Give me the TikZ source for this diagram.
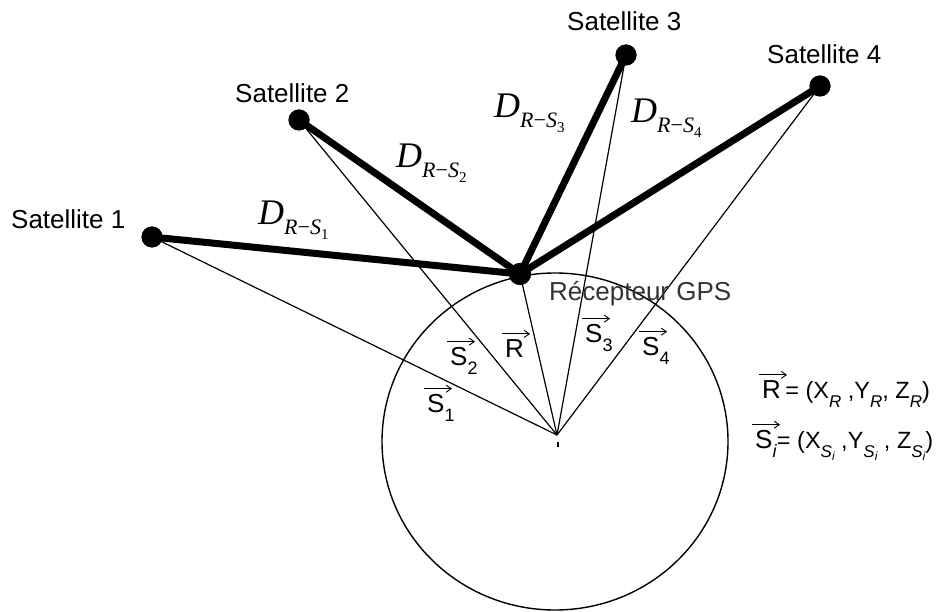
\documentclass[tikz,border=0pt]{standalone}
\usepackage{fontspec}
\usetikzlibrary{arrows.meta,calc}
\setmainfont{Liberation Serif}
\newfontfamily\arial{Liberation Sans}
\newcommand{\Dlab}[1]{{\fontsize{36}{36}\selectfont\textit{D}\raisebox{-0.27em}{\fontsize{22}{22}\selectfont\textit{R}−\textit{S}\raisebox{-0.22em}{\fontsize{15}{15}\selectfont #1}}}}
\newcommand{\vS}[1]{{\arial\fontsize{26}{26}\selectfont S\raisebox{-0.35em}{\fontsize{18}{18}\selectfont #1}}}
\newcommand{\vR}{{\arial\fontsize{26}{26}\selectfont R}}
\newcommand{\sbr}[1]{\raisebox{-0.4em}{\fontsize{17}{17}\selectfont\itshape #1}}
\newcommand{\ssi}{\raisebox{-0.4em}{\fontsize{17}{17}\selectfont\itshape S\raisebox{-0.2em}{\fontsize{12}{12}\selectfont i}}}
\begin{document}
\begin{tikzpicture}[x=1pt,y=-1pt,
  dot/.style={circle,fill=black,inner sep=0pt,minimum size=21pt},
  satlab/.style={anchor=base west,inner sep=0pt,font=\arial\fontsize{26}{26}\selectfont},
  dlab/.style={anchor=base west,inner sep=0pt},
  vec/.style={anchor=base west,inner sep=0pt},
  eq/.style={anchor=base west,inner sep=0pt,font=\arial\fontsize{23.5}{23.5}\selectfont},
  vecarrow/.style={line width=0.9pt,-{Straight Barb[length=5pt,width=7pt]}},
  thinline/.style={line width=1.2pt},
  thickline/.style={line width=7pt,line cap=round}]
\useasboundingbox[fill=white] (0,0) rectangle (939,612);
% points
\coordinate (O) at (557,435);
\node[dot] (s1) at (152,237) {};
\node[dot] (s2) at (299,120) {};
\node[dot] (s3) at (626,55) {};
\node[dot] (s4) at (820,86) {};
\node[dot,minimum size=22pt] (rec) at (520,274) {};
% thin lines to centre
\foreach \s in {s1,s2,s3,s4,rec}{\draw[thinline] (\s.center) -- (O);}
% earth
\draw[line width=1.4pt] (555,441.5) ellipse [x radius=173, y radius=168.5];
\coordinate (t1) at (558,442);
\coordinate (t2) at (558,447);
\draw[line width=1.2pt] (t1) -- (t2);
% thick distance lines
\foreach \s in {s1,s2,s3,s4}{\draw[thickline] (rec.center) -- (\s.center);}
\node[dot] at (s1) {};
\node[dot] at (s2) {};
\node[dot] at (s3) {};
\node[dot] at (s4) {};
\node[dot,minimum size=22pt] at (rec) {};
% satellite labels
\node[satlab] (l1) at (11,229) {Satellite 1};
\node[satlab] (l2) at (235,103) {Satellite 2};
\node[satlab] (l3) at (567,31) {Satellite 3};
\node[satlab] (l4) at (767,64) {Satellite 4};
\node[satlab,text=black!80] (lr) at (549,300) {Récepteur GPS};
% distance labels
\node[dlab] (d1) at (258,225) {\Dlab{1}};
\node[dlab] (d2) at (396,168) {\Dlab{2}};
\node[dlab] (d3) at (494,118) {\Dlab{3}};
\node[dlab] (d4) at (631,123) {\Dlab{4}};
% vector labels
\node[vec] (v1) at (427,412) {\vS{1}};
\node[vec] (v2) at (450,365) {\vS{2}};
\node[vec] (vr) at (505,357) {\vR};
\node[vec] (v3) at (585,342) {\vS{3}};
\node[vec] (v4) at (642,355) {\vS{4}};
% equations
\node[vec] (e1v) at (762,398) {\vR};
\node[eq] (e1) at (e1v.base east) {\,= (X\sbr{R} ,Y\sbr{R}, Z\sbr{R})};
\node[vec] (e2v) at (755,448) {\vS{\itshape i}};
\node[eq] (e2) at (e2v.base east) {= (X\ssi{} ,Y\ssi{} , Z\ssi)};
% vector arrows
\foreach \v in {v1,v2,vr,v3,v4,e1v,e2v}{
  \draw[vecarrow] ($(\v.north west)+(-3,-5)$) -- +(28,0);}
\end{tikzpicture}
\end{document}
